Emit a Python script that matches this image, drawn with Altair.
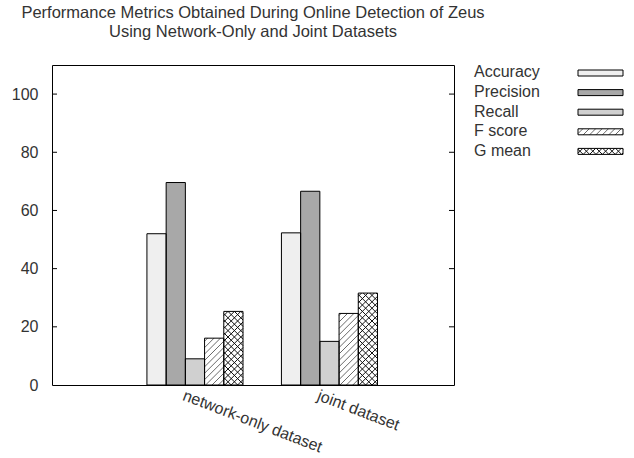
import altair as alt
import pandas as pd
import numpy as np

# ---------------- data ----------------
groups = ["network-only dataset", "joint dataset"]
metrics = ["Accuracy", "Precision", "Recall", "F score", "G mean"]
network_only = [52.0, 69.6, 9.0, 16.1, 25.3]
joint = [52.3, 66.6, 15.0, 24.6, 31.6]
y_ticks = [0, 20, 40, 60, 80, 100]
title_lines = ["Performance Metrics Obtained During Online Detection of Zeus",
               "Using Network-Only and Joint Datasets"]

# ---------------- layout / style ----------------
W, H = 402, 320
PAD = {"left": 52, "top": 65, "right": 180, "bottom": 73}
X_DOM = [-1.063, 1.926]
Y_DOM = [0, 110]
BAR_W = 1 / 7
FONT = "Liberation Sans"
FS = 16
TXT = "#333333"
kx = W / (X_DOM[1] - X_DOM[0])
ky = H / (Y_DOM[1] - Y_DOM[0])
fills = ["#efefef", "#a8a8a8", "#d0d0d0", "#ffffff", "#ffffff"]
hatch_kinds = {"F score": [("/", "#6a6a6a")], "G mean": [("/", "#111111"), ("\\", "#111111")]}
SP = 6.4


def to_x(px):
    return X_DOM[0] + px / kx


def to_y(pu):
    return Y_DOM[0] + pu / ky


def hatch_segments(a, b, yb, yt, spacing, kind):
    h = yt - yb
    out = []
    if h <= 0:
        return out
    if kind == "/":
        k0 = int(np.floor((a - h) / spacing)) - 1
        k1 = int(np.ceil(b / spacing)) + 1
        for k in range(k0, k1 + 1):
            c = k * spacing
            s, e = max(a, c), min(b, c + h)
            if e - s > 0.4:
                out.append((s, yb + s - c, e, yb + e - c))
    else:
        k0 = int(np.floor(a / spacing)) - 1
        k1 = int(np.ceil((b + h) / spacing)) + 1
        for k in range(k0, k1 + 1):
            c = k * spacing
            s, e = max(a, c - h), min(b, c)
            if e - s > 0.4:
                out.append((s, yb + c - s, e, yb + c - e))
    return out


# bars
rows = []
for gi, (g, vals) in enumerate(zip(groups, [network_only, joint])):
    for mi, (m, v) in enumerate(zip(metrics, vals)):
        xc = gi + (mi - 2) * BAR_W
        rows.append({"group": g, "metric": m, "value": v, "base": 0.0,
                     "x0": xc - BAR_W / 2, "x1": xc + BAR_W / 2})
bars = pd.DataFrame(rows)

# legend geometry (pixels relative to plot's left / bottom)
LEG_TEXT_X = 422
LEG_KEY_X0, LEG_KEY_X1 = 526, 571
LEG_ROW0, LEG_STEP = 73.0, 19.6  # absolute canvas y of first row centre
bottom_abs = PAD["top"] + H
leg_rows = []
for k, m in enumerate(metrics):
    cy = bottom_abs - (LEG_ROW0 + k * LEG_STEP)
    leg_rows.append({"metric": m, "tx": to_x(LEG_TEXT_X), "ty": to_y(cy + 0.6),
                     "kx0": to_x(LEG_KEY_X0), "kx1": to_x(LEG_KEY_X1),
                     "ky0": to_y(cy - 3), "ky1": to_y(cy + 3)})
legend = pd.DataFrame(leg_rows)

# hatching segments for bars and legend keys
segs = []
for _, r in bars.iterrows():
    for kind, col in hatch_kinds.get(r["metric"], []):
        a = (r["x0"] - X_DOM[0]) * kx
        b = (r["x1"] - X_DOM[0]) * kx
        for s in hatch_segments(a, b, 0.0, r["value"] * ky, SP, kind):
            segs.append({"xa": to_x(s[0]), "ya": to_y(s[1]), "xb": to_x(s[2]), "yb": to_y(s[3]), "col": col})
for _, r in legend.iterrows():
    for kind, col in hatch_kinds.get(r["metric"], []):
        a = (r["kx0"] - X_DOM[0]) * kx
        b = (r["kx1"] - X_DOM[0]) * kx
        y0 = (r["ky0"] - Y_DOM[0]) * ky
        y1 = (r["ky1"] - Y_DOM[0]) * ky
        for s in hatch_segments(a, b, y0, y1, SP, kind):
            segs.append({"xa": to_x(s[0]), "ya": to_y(s[1]), "xb": to_x(s[2]), "yb": to_y(s[3]), "col": col})
hatch_df = pd.DataFrame(segs)

# inner tick marks (gnuplot style)
tick_len = 5
ticks = pd.DataFrame(
    [{"xa": X_DOM[0], "xb": to_x(tick_len), "y": t} for t in y_ticks if t > 0] +
    [{"xa": to_x(W - tick_len), "xb": X_DOM[1], "y": t} for t in y_ticks if t > 0]
)

# ---------------- scales / axes ----------------
xs = alt.Scale(domain=X_DOM, nice=False, zero=False)
ys = alt.Scale(domain=Y_DOM, nice=False, zero=False)
label_expr = "[" + ",".join("'" + g + "'" for g in groups) + "][datum.value]"
ax_x = alt.Axis(values=list(range(len(groups))), labelExpr=label_expr, title=None,
                grid=False, domain=False, ticks=False, tickSize=0,
                labelAngle=21, labelAlign="left", labelBaseline="top",
                labelOffset=-9, labelPadding=2, labelFont=FONT, labelFontSize=FS,
                labelColor=TXT)
ax_y = alt.Axis(values=y_ticks, title=None, grid=False, domain=False, ticks=False,
                tickSize=0, labelPadding=14, labelFont=FONT, labelFontSize=FS,
                labelColor=TXT)

color = alt.Color("metric:N", scale=alt.Scale(domain=metrics, range=fills), legend=None)

bar_fill = alt.Chart(bars).mark_rect(strokeWidth=0).encode(
    x=alt.X("x0:Q", scale=xs, axis=ax_x),
    x2="x1:Q",
    y=alt.Y("value:Q", scale=ys, axis=ax_y),
    y2="base:Q",
    color=color,
)

leg_fill = alt.Chart(legend).mark_rect(strokeWidth=0).encode(
    x=alt.X("kx0:Q", scale=xs, axis=ax_x), x2="kx1:Q",
    y=alt.Y("ky0:Q", scale=ys, axis=ax_y), y2="ky1:Q",
    color=color,
)

hatch_layer = alt.Chart(hatch_df).mark_rule(strokeWidth=1).encode(
    x=alt.X("xa:Q", scale=xs, axis=ax_x), x2="xb:Q",
    y=alt.Y("ya:Q", scale=ys, axis=ax_y), y2="yb:Q",
    color=alt.Color("col:N", scale=None),
)

bar_outline = alt.Chart(bars).mark_rect(fillOpacity=0, stroke="black", strokeWidth=1).encode(
    x=alt.X("x0:Q", scale=xs, axis=ax_x),
    x2="x1:Q",
    y=alt.Y("value:Q", scale=ys, axis=ax_y),
    y2="base:Q",
)

leg_outline = alt.Chart(legend).mark_rect(fillOpacity=0, stroke="black", strokeWidth=1).encode(
    x=alt.X("kx0:Q", scale=xs, axis=ax_x), x2="kx1:Q",
    y=alt.Y("ky0:Q", scale=ys, axis=ax_y), y2="ky1:Q",
)
leg_text = alt.Chart(legend).mark_text(align="left", baseline="middle", font=FONT,
                                       fontSize=FS, color=TXT).encode(
    x=alt.X("tx:Q", scale=xs, axis=ax_x),
    y=alt.Y("ty:Q", scale=ys, axis=ax_y),
    text="metric:N",
)

tick_layer = alt.Chart(ticks).mark_rule(color="black", strokeWidth=1).encode(
    x=alt.X("xa:Q", scale=xs, axis=ax_x), x2="xb:Q",
    y=alt.Y("y:Q", scale=ys, axis=ax_y),
)

chart = alt.layer(bar_fill, leg_fill, hatch_layer, bar_outline, tick_layer,
                  leg_text, leg_outline).properties(
    width=W, height=H,
    padding=PAD,
    autosize=alt.AutoSizeParams(type="none"),
    title=alt.TitleParams(text=title_lines, anchor="middle", frame="group",
                          font=FONT, fontSize=16.5, fontWeight="normal",
                          color=TXT, lineHeight=19, offset=24),
    background="white",
).configure_view(stroke="black", strokeWidth=1)

chart.save("out.html", embed_options={"renderer": "svg", "actions": False})
